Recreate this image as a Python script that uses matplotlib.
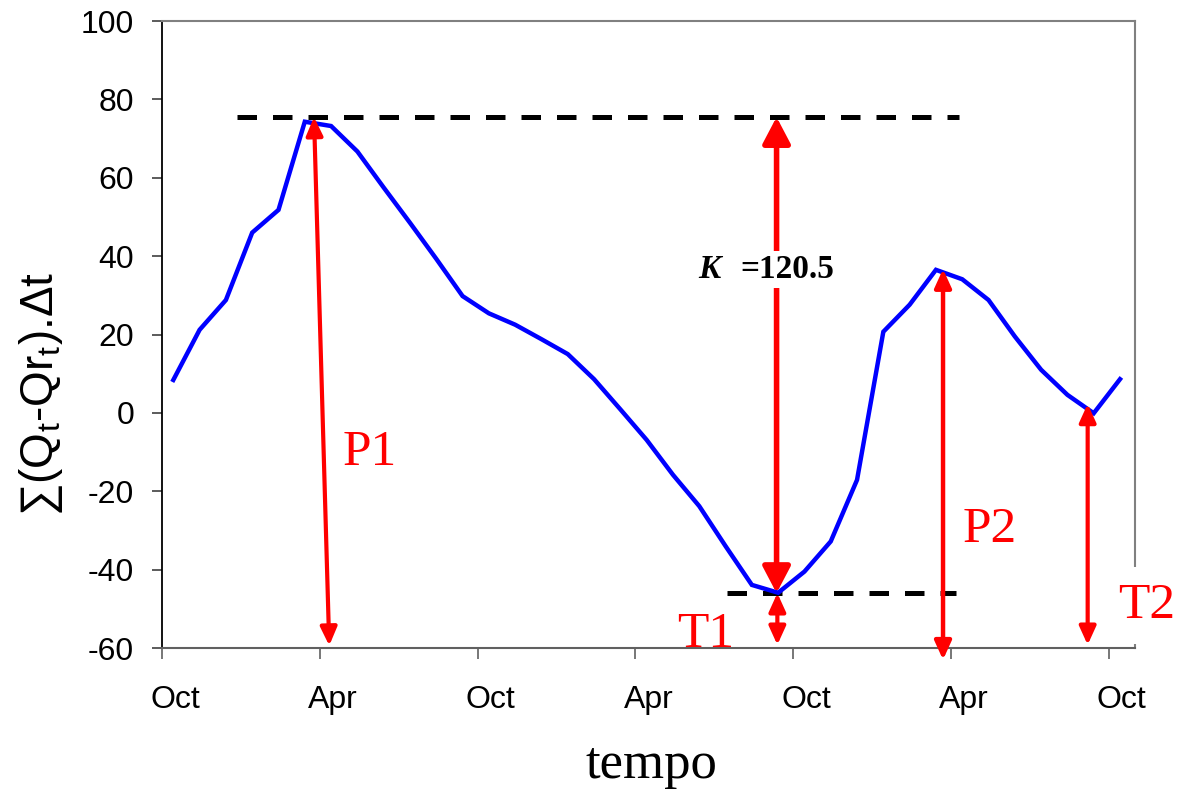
import numpy as np
import matplotlib
matplotlib.use("Agg")
import matplotlib.pyplot as plt

# ==========================================
# DATA
# ==========================================

# cumulative deviation (Qt - Qrt), one value per month starting in October
cum_dev = [
    8.4, 21.2, 28.8, 46.0, 51.8, 74.3, 73.2, 66.7, 57.5, 48.5,
    39.3, 29.8, 25.4, 22.5, 18.8, 15.0, 8.6, 0.9, -6.9, -15.8,
    -23.8, -34.0, -43.9, -45.9, -40.5, -32.8, -17.1, 20.7, 27.6, 36.5,
    34.1, 28.8, 19.5, 11.0, 4.6, -0.1, 8.6,
]
month_pos = np.arange(len(cum_dev)) + 0.43

tick_months = [0, 6, 12, 18, 24, 30, 36]
tick_names = ["Oct", "Apr", "Oct", "Apr", "Oct", "Apr", "Oct"]
y_ticks = [-60, -40, -20, 0, 20, 40, 60, 80, 100]

peak_level = 75.5
trough_level = -46.0
k_value = 120.5

# ==========================================
# FIGURE
# ==========================================

plt.rcParams["font.family"] = ["Liberation Sans", "DejaVu Sans"]
plt.rcParams["mathtext.fontset"] = "custom"
plt.rcParams["mathtext.rm"] = "Liberation Sans"
plt.rcParams["mathtext.it"] = "Liberation Sans:italic"

fig = plt.figure(figsize=(11.83, 7.92), dpi=100)
ax = fig.add_axes([162 / 1183, 1 - 648 / 792, 973 / 1183, 627 / 792])

ax.plot(month_pos, cum_dev, color="#0000ff", lw=3.2, zorder=3,
        solid_joinstyle="miter")

# dashed reference levels
ax.plot([2.86, 30.3], [peak_level, peak_level], color="black", lw=3.6,
        dashes=(3.9, 3.2), zorder=2)
ax.plot([21.5, 30.2], [trough_level, trough_level], color="black", lw=3.6,
        dashes=(3.9, 3.2), zorder=2)

# ==========================================
# ARROWS
# ==========================================

small = "<|-|>,head_length=0.55,head_width=0.25"
big = "<|-|>,head_length=0.8,head_width=0.42"


def arrow(x0, y0, x1, y1, style, lw):
    ax.annotate("", xy=(x1, y1), xytext=(x0, y0), xycoords="data",
                arrowprops=dict(arrowstyle=style, color="#ff0000", lw=lw,
                                shrinkA=0, shrinkB=0, mutation_scale=20),
                annotation_clip=False, zorder=4)


arrow(5.78, peak_level, 6.36, -59.4, small, 3.0)       # P1
arrow(23.37, peak_level, 23.37, trough_level, big, 4.0)  # K
arrow(23.4, trough_level, 23.4, -59.2, small, 3.0)     # T1
arrow(29.7, 36.7, 29.7, -63.0, small, 3.2)             # P2
arrow(35.2, 2.3, 35.2, -59.2, small, 3.0)              # T2

# ==========================================
# LABELS
# ==========================================

lab = dict(color="#ff0000", fontsize=37, family="Liberation Serif",
           ha="left", va="baseline", zorder=6, clip_on=False)
ax.text(6.88, -13.3, "P1", **lab)
ax.text(19.58, -59.7, "T1", **lab)
ax.text(30.46, -32.9, "P2", **lab)
ax.text(36.35, -52.3, "T2",
        bbox=dict(facecolor="white", edgecolor="none", pad=11), **lab)

ax.text(20.38, 34.4, "K", fontsize=24, family="Liberation Serif",
        fontweight="bold", fontstyle="italic", ha="left", va="baseline",
        zorder=6)
ax.text(22.0, 34.4, "=%.1f" % k_value, fontsize=24,
        family="Liberation Serif", fontweight="bold", ha="left",
        va="baseline", zorder=6,
        bbox=dict(facecolor="white", edgecolor="none", pad=2))

# ==========================================
# AXES STYLE
# ==========================================

ax.set_xlim(0, 37)
ax.set_ylim(-60, 100)

ax.set_xticks(tick_months)
ax.set_xticklabels([])
ax.set_xticks([m + 0.5 for m in tick_months], minor=True)
ax.set_xticklabels(tick_names, minor=True, fontsize=23)
ax.tick_params(axis="x", which="major", direction="out", length=8,
               width=1.2, color="#606060")
ax.tick_params(axis="x", which="minor", length=0, pad=43)
for t in ax.get_xticklabels(minor=True):
    t.set_verticalalignment("baseline")

ax.set_yticks(y_ticks)
ax.set_yticklabels([str(v) for v in y_ticks], fontsize=23)
ax.tick_params(axis="y", direction="out", length=7, width=1.2,
               color="#404040", pad=13)

ax.spines["left"].set_color("black")
ax.spines["left"].set_linewidth(1.3)
ax.spines["bottom"].set_color("#606060")
ax.spines["bottom"].set_linewidth(1.5)
for side in ["top", "right"]:
    ax.spines[side].set_color("#808080")
    ax.spines[side].set_linewidth(1.5)

fig.text(651 / 1183, 1 - 765 / 792, "tempo", fontsize=38,
         family="Liberation Serif", ha="center", va="center")
fig.text(41 / 1183, 1 - 394 / 792,
         "∑(Q$_\\mathrm{t}$-Qr$_\\mathrm{t}$).Δt", fontsize=33,
         rotation=90, ha="center", va="center")

fig.savefig("out.png", dpi=100)
